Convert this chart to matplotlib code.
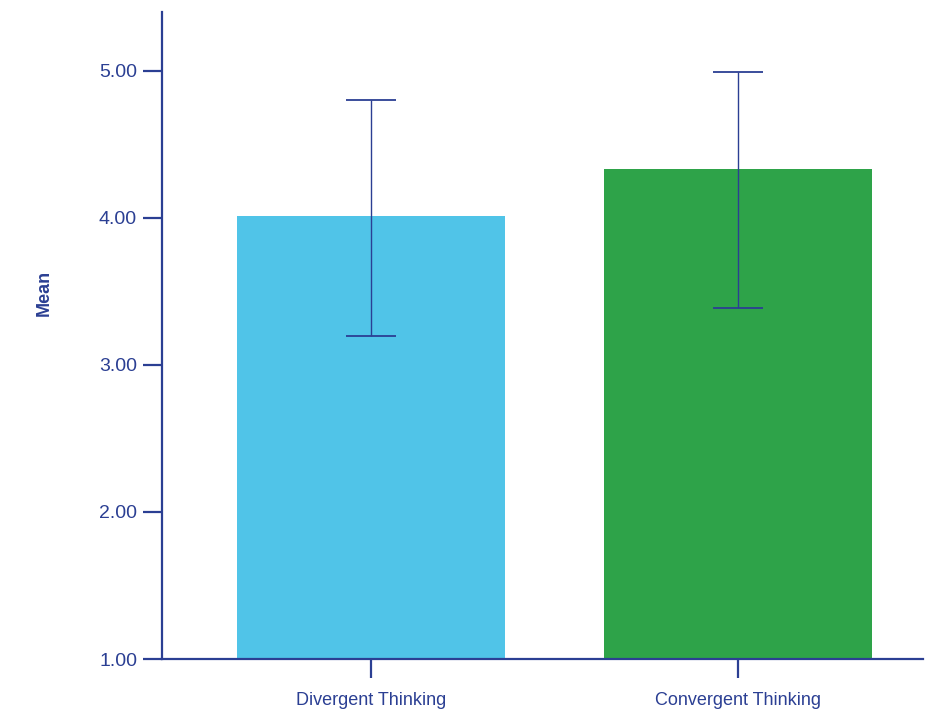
import matplotlib.pyplot as plt

plt.rcParams['font.family'] = ['Liberation Sans Narrow', 'Liberation Sans', 'DejaVu Sans']

categories = ['Divergent Thinking', 'Convergent Thinking']
means = [4.01, 4.33]
err_low = [3.20, 3.39]
err_high = [4.80, 4.99]
yticks = [1.0, 2.0, 3.0, 4.0, 5.0]

navy = '#2B3F93'
colors = ['#50C4E8', '#2EA349']

fig = plt.figure(figsize=(9.38, 7.12), dpi=100)
ax = fig.add_axes([162 / 938, 1 - 659 / 712, (923 - 162) / 938, (659 - 12) / 712])

x = list(range(len(categories)))
ax.bar(x, [m - 1.0 for m in means], bottom=1.0, width=0.73, color=colors, zorder=1)
yerr = [[m - lo for m, lo in zip(means, err_low)], [hi - m for m, hi in zip(means, err_high)]]
ax.errorbar(x, means, yerr=yerr, fmt='none', ecolor=navy, elinewidth=1.0,
            capsize=18, capthick=1.3, zorder=2)

ax.set_xlim(-0.5695, 1.504)
ax.set_ylim(1.0, 5.40)
ax.set_yticks(yticks)
ax.set_yticklabels([f'{v:.2f}' for v in yticks])
ax.set_xticks(x)
ax.set_xticklabels(categories)

for s in ['top', 'right']:
    ax.spines[s].set_visible(False)
for s in ['left', 'bottom']:
    ax.spines[s].set_color(navy)
    ax.spines[s].set_linewidth(1.6)
    ax.spines[s].set_zorder(3)

ax.tick_params(axis='y', length=14, width=1.6, color=navy, labelcolor=navy,
               labelsize=14, pad=4)
ax.tick_params(axis='x', length=14, width=1.6, color=navy, labelcolor=navy,
               labelsize=13, pad=10)

ax.set_ylabel('Mean', color=navy, fontsize=13, fontweight='bold')
ax.yaxis.set_label_coords(-0.143, 0.566)

fig.savefig('out.png', dpi=100)
